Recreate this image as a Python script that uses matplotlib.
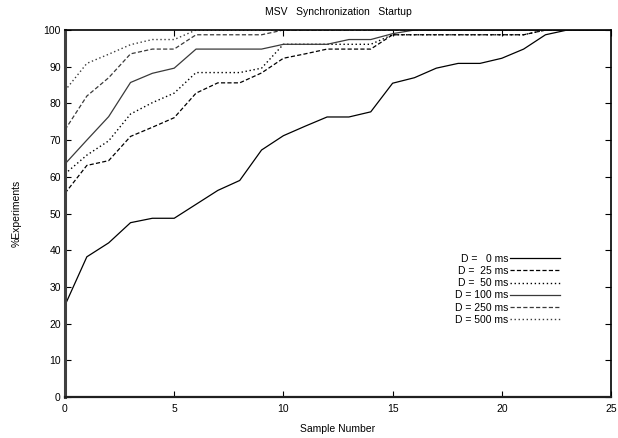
import matplotlib
matplotlib.use("Agg")
import matplotlib.pyplot as plt

plt.rcParams['font.family'] = ['Liberation Sans', 'DejaVu Sans']
plt.rcParams['lines.scale_dashes'] = False

samples = list(range(0, 26))
labels = ["D =   0 ms", "D =  25 ms", "D =  50 ms", "D = 100 ms", "D = 250 ms", "D = 500 ms"]

d0 = [25.0, 38.2, 42.0, 47.5, 48.7, 48.7, 52.5, 56.3, 59.0, 67.3, 71.2, 73.8, 76.3, 76.3, 77.7,
      85.5, 87.0, 89.6, 90.9, 90.9, 92.3, 94.8, 98.7, 100.0, 100.0, 100.0]
d25 = [55.5, 63.1, 64.4, 71.0, 73.5, 76.1, 82.8, 85.6, 85.6, 88.3, 92.3, 93.5, 94.8, 94.8, 94.8,
       98.7, 98.7, 98.7, 98.7, 98.7, 98.7, 98.7, 100.0, 100.0, 100.0, 100.0]
d50 = [60.8, 65.9, 69.8, 77.1, 80.2, 82.8, 88.4, 88.4, 88.4, 89.6, 96.1, 96.1, 96.1, 96.1, 96.1,
       98.7, 98.7, 98.7, 98.7, 98.7, 98.7, 98.7, 100.0, 100.0, 100.0, 100.0]
d100 = [63.5, 70.0, 76.4, 85.7, 88.2, 89.6, 94.8, 94.8, 94.8, 94.8, 96.1, 96.1, 96.1, 97.4, 97.4,
        99.0, 100.0, 100.0, 100.0, 100.0, 100.0, 100.0, 100.0, 100.0, 100.0, 100.0]
d250 = [72.8, 82.0, 87.0, 93.5, 94.8, 94.8, 98.7, 98.7, 98.7, 98.7, 100.0, 100.0, 100.0, 100.0, 100.0,
        100.0, 100.0, 100.0, 100.0, 100.0, 100.0, 100.0, 100.0, 100.0, 100.0, 100.0]
d500 = [83.5, 90.9, 93.4, 96.0, 97.4, 97.4, 100.0, 100.0, 100.0, 100.0, 100.0, 100.0, 100.0, 100.0, 100.0,
        100.0, 100.0, 100.0, 100.0, 100.0, 100.0, 100.0, 100.0, 100.0, 100.0, 100.0]

series = [d0, d25, d50, d100, d250, d500]
styles = [
    dict(color='black', linestyle='-', lw=0.9),
    dict(color='black', linestyle=(0, (3.0, 1.6)), lw=0.9),
    dict(color='black', linestyle=(0, (1.0, 1.9)), lw=1.0),
    dict(color='#3a3a3a', linestyle='-', lw=0.9),
    dict(color='#3a3a3a', linestyle=(0, (3.0, 1.6)), lw=0.9),
    dict(color='#3a3a3a', linestyle=(0, (1.0, 1.9)), lw=1.0),
]

fig = plt.figure(figsize=(6.18, 4.38), dpi=100)
ax = fig.add_axes([65/618, 41/438, 546/618, 367/438])

for vals, st, lab in zip(series, styles, labels):
    ax.plot(samples, vals, label=lab, **st)

ax.set_xlim(0, 25)
ax.set_ylim(0, 100)
ax.set_xticks([0, 5, 10, 15, 20, 25])
ax.set_yticks(range(0, 101, 10))
ax.tick_params(direction='in', length=4, width=0.8, labelsize=7.5, top=True, right=True,
               pad=3, colors='black')
ax.tick_params(axis='x', pad=5)

ax.spines['left'].set_linewidth(2.2)
ax.spines['left'].set_color('#404040')
ax.spines['bottom'].set_linewidth(1.6)
ax.spines['bottom'].set_color('#202020')
ax.spines['top'].set_linewidth(1.2)
ax.spines['right'].set_linewidth(1.2)

ax.set_title("MSV   Synchronization   Startup", fontsize=7.5, pad=11)
ax.set_xlabel("Sample Number", fontsize=7.5, labelpad=7)
ax.set_ylabel("%Experiments", fontsize=7.5, labelpad=16)

leg = ax.legend(loc='upper left', bbox_to_anchor=(0.705, 0.405), frameon=False,
                markerfirst=False, fontsize=7.5, handlelength=4.8, handletextpad=0.1,
                labelspacing=0.22, borderpad=0.0)

fig.savefig("out.png", dpi=100)
